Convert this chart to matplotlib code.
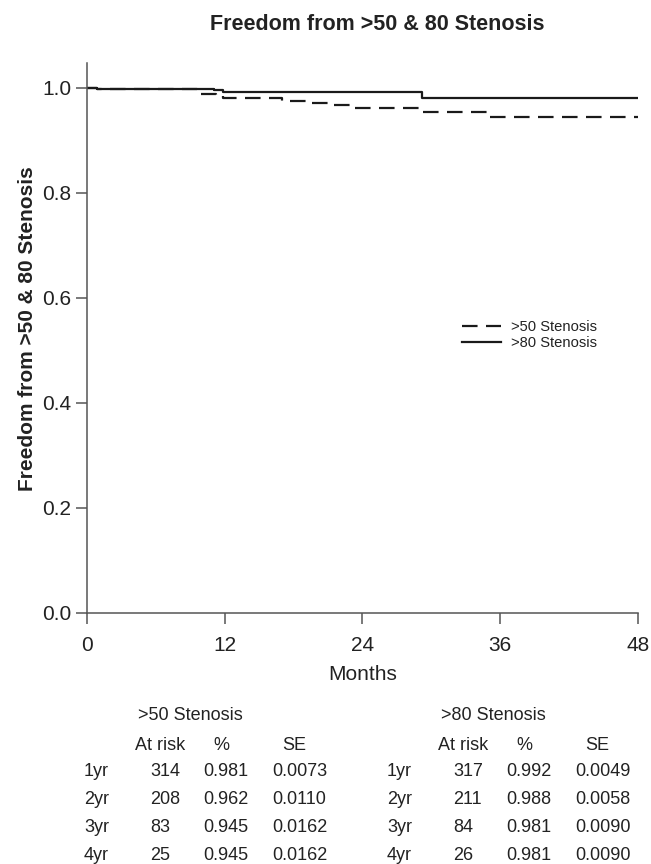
import matplotlib
matplotlib.use("Agg")
import matplotlib.pyplot as plt

plt.rcParams['font.family'] = ['Liberation Sans', 'DejaVu Sans']

# Kaplan-Meier step data (months, survival)
t50 = [0, 0.9, 9.6, 11.3, 11.9, 17.0, 19.1, 21.0, 22.9, 29.1, 35.1, 48]
s50 = [1.0, 0.997, 0.989, 0.985, 0.981, 0.975, 0.971, 0.968, 0.962, 0.955, 0.945, 0.945]
t80 = [0, 0.9, 11.1, 11.9, 29.2, 48]
s80 = [1.0, 0.998, 0.996, 0.992, 0.981, 0.981]

series_names = ['>50 Stenosis', '>80 Stenosis']
xticks = [0, 12, 24, 36, 48]
yticks = [0.0, 0.2, 0.4, 0.6, 0.8, 1.0]

row_labels = ['1yr', '2yr', '3yr', '4yr']
col_headers = ['At risk', '%', 'SE']
risk50 = ['314', '208', '83', '25']
pct50 = ['0.981', '0.962', '0.945', '0.945']
se50 = ['0.0073', '0.0110', '0.0162', '0.0162']
risk80 = ['317', '211', '84', '26']
pct80 = ['0.992', '0.988', '0.981', '0.981']
se80 = ['0.0049', '0.0058', '0.0090', '0.0090']

W, H = 651, 864
fig = plt.figure(figsize=(W / 100, H / 100), dpi=100)
ax_l, ax_r, ax_b, ax_t = 86.7, 638, 613, 62.7
ax = fig.add_axes([ax_l / W, 1 - ax_b / H, (ax_r - ax_l) / W, (ax_b - ax_t) / H])

col = '#1a1a1a'
ax.step(t50, s50, where='post', color=col, lw=1.6, linestyle=(0, (7, 3.8)),
        label=series_names[0])
ax.step(t80, s80, where='post', color=col, lw=1.6, label=series_names[1])

ax.set_xlim(0, 48)
ax.set_ylim(0, 1.048)
ax.set_xticks(xticks)
ax.set_xticklabels([str(x) for x in xticks])
ax.set_yticks(yticks)
ax.set_yticklabels([f'{y:.1f}' for y in yticks])
for sp in ['top', 'right']:
    ax.spines[sp].set_visible(False)
for sp in ['left', 'bottom']:
    ax.spines[sp].set_color('#555555')
    ax.spines[sp].set_linewidth(1.1)
ax.tick_params(axis='both', colors='#555555', labelcolor='#222222', labelsize=15,
               length=8, width=1.1)
ax.tick_params(axis='x', pad=8.5)
ax.tick_params(axis='y', pad=3)
ax.set_xlabel('Months', fontsize=15, color='#222222', labelpad=7)
ax.set_ylabel('Freedom from >50 & 80 Stenosis', fontsize=15, fontweight='bold',
              color='#222222')
ax.yaxis.set_label_coords(-(ax_l - 37) / (ax_r - ax_l), (ax_b - 329) / (ax_b - ax_t))
fig.text(377.5 / W, 1 - 24 / H, 'Freedom from >50 & 80 Stenosis', ha='center', va='center',
         fontsize=15.5, fontweight='bold', color='#222222')

leg = ax.legend(loc='upper left',
                bbox_to_anchor=((462 - ax_l) / (ax_r - ax_l), (ax_b - 320) / (ax_b - ax_t)),
                frameon=False, fontsize=10.6, handlelength=2.65, handletextpad=0.68,
                labelspacing=0.15, borderpad=0, borderaxespad=0)
for txt in leg.get_texts():
    txt.set_color('#222222')

def fx(px):
    return px / W

def fy(py):
    return 1 - py / H

fs = 13
tc = '#222222'
row_y = [771, 799, 827.5, 855.5]
tables = [
    (0, '>50 Stenosis', risk50, pct50, se50),
    (303, '>80 Stenosis', risk80, pct80, se80),
]
for dx, name, risk, pct, se in tables:
    fig.text(fx(138 + dx), fy(716), name, ha='left', va='center', fontsize=fs, color=tc)
    fig.text(fx(135 + dx), fy(745), col_headers[0], ha='left', va='center', fontsize=fs, color=tc)
    fig.text(fx(221 + dx), fy(745), col_headers[1], ha='center', va='center', fontsize=fs, color=tc)
    fig.text(fx(294 + dx), fy(745), col_headers[2], ha='center', va='center', fontsize=fs, color=tc)
    for i in range(4):
        fig.text(fx(109 + dx), fy(row_y[i]), row_labels[i], ha='right', va='center', fontsize=fs, color=tc)
        fig.text(fx(150 + dx), fy(row_y[i]), risk[i], ha='left', va='center', fontsize=fs, color=tc)
        fig.text(fx(203 + dx), fy(row_y[i]), pct[i], ha='left', va='center', fontsize=fs, color=tc)
        fig.text(fx(272 + dx), fy(row_y[i]), se[i], ha='left', va='center', fontsize=fs, color=tc)

fig.savefig('out.png', dpi=100)
